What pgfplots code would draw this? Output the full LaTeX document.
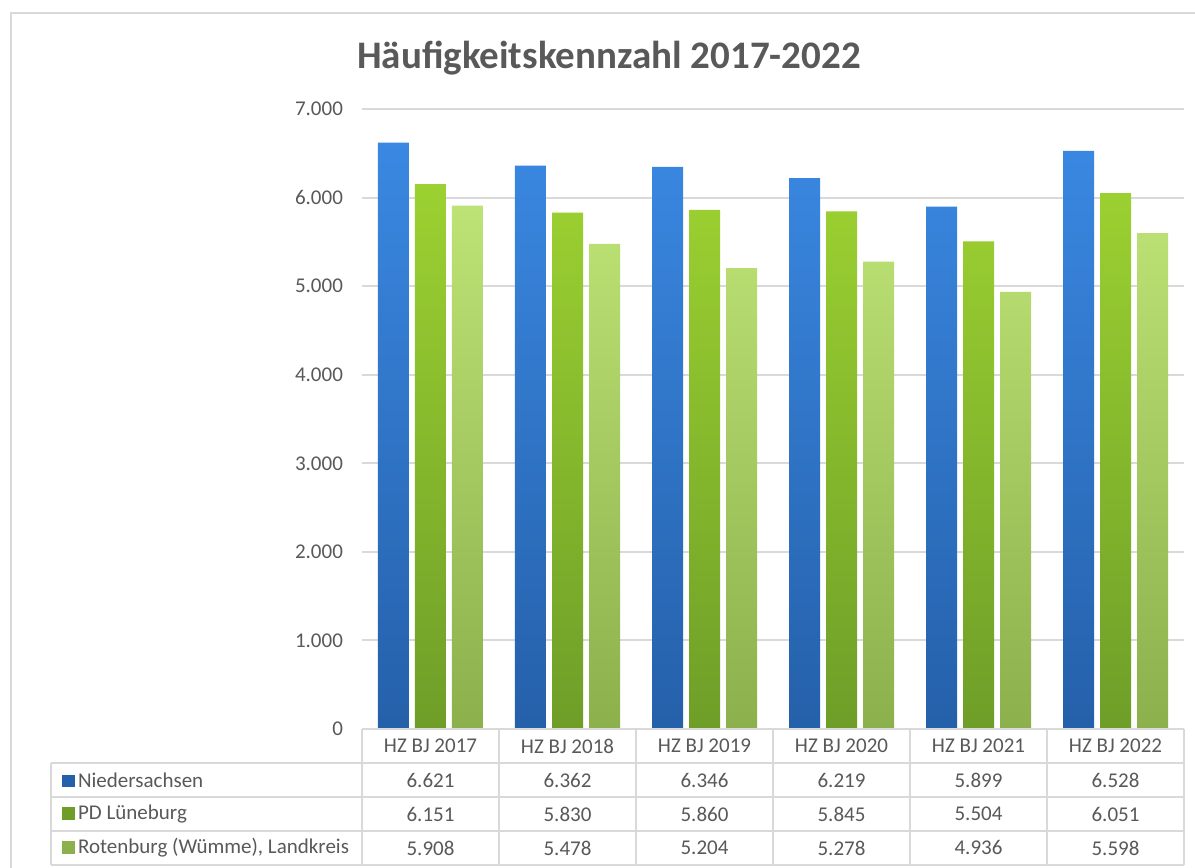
\documentclass[border=0pt]{standalone}
\usepackage{pgfplots}
\pgfplotsset{compat=1.18}
\usepackage{fontspec}
\setmainfont{Carlito}
\definecolor{txt}{HTML}{595959}
\definecolor{gridc}{HTML}{D9D9D9}
\definecolor{blueT}{HTML}{3A88E2}
\definecolor{blueB}{HTML}{2560AA}
\definecolor{grnT}{HTML}{9CD131}
\definecolor{grnB}{HTML}{6E9E28}
\definecolor{lgrT}{HTML}{BDE275}
\definecolor{lgrB}{HTML}{8CB04C}
\tikzset{tt/.style={font=\fontsize{10.5}{12}\selectfont, text=txt}, gl/.style={gridc, line width=1pt}}
\begin{document}
\begin{tikzpicture}[x=1pt,y=1pt]
\useasboundingbox (0,0) rectangle (597.5,434);
\fill[white] (0,0) rectangle (597.5,434);
\draw[gridc, line width=1pt] (5.5,-5) -- (5.5,427.5) -- (600,427.5);
\node[font=\fontsize{19.5}{23}\selectfont\bfseries, text=txt] at (304.5,405) {Häufigkeitskennzahl 2017-2022};
\begin{axis}[at={(181pt,69.5pt)}, anchor=south west, scale only axis,
  width=411pt, height=310pt,
  xmin=-0.5, xmax=5.5, ymin=0, ymax=7000, clip=false,
  axis line style={draw=none}, ytick={0,1000,...,7000}, xtick=\empty,
  ymajorgrids, grid style={gridc, line width=1pt}, major tick length=0pt,
  yticklabel style={font=\fontsize{10.5}{12}\selectfont, text=txt, xshift=-6pt},
  /pgf/number format/1000 sep={.},
  /pgf/number format/assume math mode=true,
  ybar=3pt, bar width=15.5pt]
\addplot[draw=none, top color=blueT, bottom color=blueB] coordinates {(0,6621) (1,6362) (2,6346) (3,6219) (4,5899) (5,6528)};
\addplot[draw=none, top color=grnT, bottom color=grnB] coordinates {(0,6151) (1,5830) (2,5860) (3,5845) (4,5504) (5,6051)};
\addplot[draw=none, top color=lgrT, bottom color=lgrB] coordinates {(0,5908) (1,5478) (2,5204) (3,5278) (4,4936) (5,5598)};
% data table below the plot
\draw[gl] (-0.5,0) -- (5.5,0);
\draw[gl] (-2.768,-384) -- (5.5,-384);
\draw[gl] (-2.768,-768) -- (5.5,-768);
\draw[gl] (-2.768,-1152) -- (5.5,-1152);
\draw[gl] (-2.768,-1535) -- (5.5,-1535);
\draw[gl] (-2.768,-384) -- (-2.768,-1535);
\draw[gl] (-0.5,0) -- (-0.5,-1535);
\draw[gl] (0.5,0) -- (0.5,-1535);
\draw[gl] (1.5,0) -- (1.5,-1535);
\draw[gl] (2.5,0) -- (2.5,-1535);
\draw[gl] (3.5,0) -- (3.5,-1535);
\draw[gl] (4.5,0) -- (4.5,-1535);
\draw[gl] (5.5,0) -- (5.5,-1535);
\node[tt] at (0,-192) {HZ BJ 2017};
\node[tt] at (1,-192) {HZ BJ 2018};
\node[tt] at (2,-192) {HZ BJ 2019};
\node[tt] at (3,-192) {HZ BJ 2020};
\node[tt] at (4,-192) {HZ BJ 2021};
\node[tt] at (5,-192) {HZ BJ 2022};
\node[tt, anchor=west] at (-2.74,-576) {\textcolor{blueB}{\rule{6.2pt}{6.2pt}}\,Niedersachsen};
\node[tt, anchor=west] at (-2.74,-960) {\textcolor{grnB}{\rule{6.2pt}{6.2pt}}\,PD Lüneburg};
\node[tt, anchor=west] at (-2.74,-1343) {\textcolor{lgrB}{\rule{6.2pt}{6.2pt}}\,Rotenburg (Wümme), Landkreis};
\node[tt] at (0,-576) {6.621};
\node[tt] at (1,-576) {6.362};
\node[tt] at (2,-576) {6.346};
\node[tt] at (3,-576) {6.219};
\node[tt] at (4,-576) {5.899};
\node[tt] at (5,-576) {6.528};
\node[tt] at (0,-960) {6.151};
\node[tt] at (1,-960) {5.830};
\node[tt] at (2,-960) {5.860};
\node[tt] at (3,-960) {5.845};
\node[tt] at (4,-960) {5.504};
\node[tt] at (5,-960) {6.051};
\node[tt] at (0,-1343) {5.908};
\node[tt] at (1,-1343) {5.478};
\node[tt] at (2,-1343) {5.204};
\node[tt] at (3,-1343) {5.278};
\node[tt] at (4,-1343) {4.936};
\node[tt] at (5,-1343) {5.598};
\end{axis}
\end{tikzpicture}
\end{document}
